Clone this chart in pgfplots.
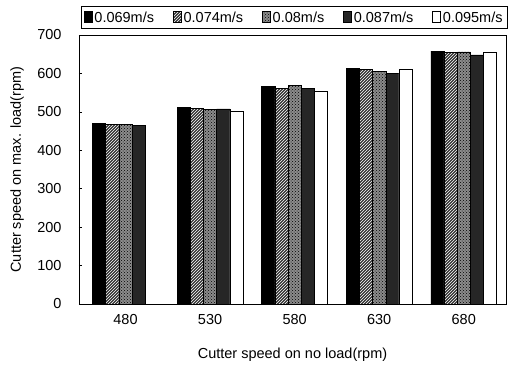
\documentclass[border=0pt]{standalone}
\usepackage{fontspec}
\setmainfont{Liberation Sans}
\usepackage{pgfplots}
\pgfplotsset{compat=1.18}
\usetikzlibrary{patterns}
\begin{document}
\begin{tikzpicture}[font=\fontsize{14.5}{17}\selectfont]
\begin{axis}[
  at={(0,0)}, anchor=south west,
  scale only axis, width=427pt, height=269pt,
  ybar=0pt, bar width=0.156,
  xmin=-0.55, xmax=4.5, ymin=0, ymax=700,
  xtick={0,1,2,3,4}, xticklabels={480,530,580,630,680},
  ytick={0,100,...,700},
  /pgf/number format/assume math mode=true,
  xtick style={draw=none},
  ytick pos=left, tick align=inside, major tick length=3pt,
  tick style={black, line width=0.6pt},
  axis line style={line width=0.8pt},
  xticklabel style={yshift=-7pt},
  yticklabel style={xshift=-14pt},
  xlabel={Cutter speed on no load(rpm)},
  ylabel={Cutter speed on max. load(rpm)},
  xlabel style={at={(axis description cs:0.5,-0.19)}, anchor=center},
  ylabel style={at={(axis description cs:-0.145,0.5)}, anchor=center},
  legend columns=5,
  legend image code/.code={\draw[#1] (0pt,-5pt) rectangle (8pt,6pt);},
  legend style={at={(axis description cs:1,1)}, anchor=south east,
    xshift=2pt, yshift=6pt, draw=black, line width=0.8pt, fill=white,
    inner sep=3pt, nodes={inner sep=2pt, line width=0.5pt},
    /tikz/every even column/.append style={column sep=17pt}},
]
\addplot[draw=black, line width=0.5pt, fill=black] coordinates {(0,470) (1,512) (2,567) (3,613) (4,658)};
\addplot[draw=black, line width=0.5pt, fill=black!80, postaction={pattern=north east lines, pattern color=white}] coordinates {(0,467) (1,509) (2,562) (3,611) (4,654)};
\addplot[draw=black, line width=0.5pt, fill=black!45, postaction={pattern=crosshatch dots, pattern color=black}] coordinates {(0,468) (1,507) (2,569) (3,606) (4,656)};
\addplot[draw=black, line width=0.5pt, fill=black!85] coordinates {(0,465) (1,508) (2,561) (3,601) (4,648)};
\addplot[draw=black, line width=0.5pt, fill=white] coordinates {(1,502) (2,554) (3,612) (4,656)};
\legend{0.069m/s,0.074m/s,0.08m/s,0.087m/s,0.095m/s}
\end{axis}
\pgfresetboundingbox
\path[use as bounding box] (-79pt,-63pt) rectangle (429pt,304pt);
\end{tikzpicture}
\end{document}
